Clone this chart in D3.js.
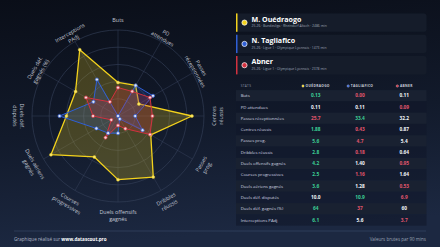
<!DOCTYPE html>
<html>
<head>
<meta charset="utf-8">
<script src="https://cdn.jsdelivr.net/npm/d3@7"></script>
<style>
  html, body { margin: 0; padding: 0; background: #0d1320; }
  svg { display: block; font-family: 'Open Sans', sans-serif; }
</style>
</head>
<body>
<script>
////Globals
const width = 440;
const height = 247;

// radar axes, "\n" marks the line break used on the chart
const statLabels = ['Buts', 'PD\nattendues', 'Passes\nréceptionnées', 'Centres\nréussis', 'Passes\nprog.',
  'Dribbles\nréussis', 'Duels offensifs\ngagnés', 'Courses\nprogressives', 'Duels aériens\ngagnés',
  'Duels déf.\ndisputés', 'Duels déf.\ngagnés (%)', 'Interceptions\nPAdj'];

const playerNames = ['M. Ouédraogo', 'N. Tagliafico', 'Abner'];
const playerShort = ['OUÉDRAOGO', 'TAGLIAFICO', 'ABNER'];
const playerInfo = [
  '25-26 · Bundesliga · Rheindorf Altach · 2486 min',
  '25-26 · Ligue 1 · Olympique Lyonnais · 1473 min',
  '25-26 · Ligue 1 · Olympique Lyonnais · 2378 min'
];
const playerColors = ['#f3d21c', '#2f5fd6', '#d2313f'];

// percentile ranks (radar)
const pctOuedraogo = [39, 41, 28, 86, 44, 82, 74, 55, 90, 60, 57, 89];
const pctTagliafico = [0, 41, 47, 20, 33, 4, 20, 23, 29, 68, 33, 49];
const pctAbner = [33, 33, 43, 40, 43, 17, 11, 29, 9, 29, 43, 19];

// raw values per 90 (table)
const rawOuedraogo = ['0.13', '0.11', '25.7', '1.88', '5.6', '2.8', '4.2', '2.5', '3.6', '10.0', '64', '6.1'];
const rawTagliafico = ['0.00', '0.11', '33.4', '0.43', '4.7', '0.18', '1.40', '1.16', '1.28', '10.9', '37', '5.6'];
const rawAbner = ['0.11', '0.09', '32.2', '0.87', '5.4', '0.64', '0.95', '1.64', '0.53', '6.9', '60', '3.7'];

const pctSeries = [pctOuedraogo, pctTagliafico, pctAbner];
const rawSeries = [rawOuedraogo, rawTagliafico, rawAbner];

const svg = d3.select('body').append('svg')
  .attr('width', width)
  .attr('height', height);

// background
const defs = svg.append('defs');
const bg = defs.append('linearGradient').attr('id', 'bg')
  .attr('x1', 0).attr('y1', 0).attr('x2', 0.15).attr('y2', 1);
bg.append('stop').attr('offset', 0).attr('stop-color', '#0a0e18');
bg.append('stop').attr('offset', 0.55).attr('stop-color', '#121a2b');
bg.append('stop').attr('offset', 1).attr('stop-color', '#1c2841');
svg.append('rect').attr('width', width).attr('height', height).attr('fill', 'url(#bg)');

////Radar
const cx = 118;
const cy = 116;
const R = 86;
const n = statLabels.length;
const angle = d3.scaleLinear().domain([0, n]).range([0, 2 * Math.PI]);
const rScale = d3.scaleLinear().domain([0, 100]).range([0, R]);

const radar = svg.append('g').attr('transform', `translate(${cx},${cy})`);

radar.selectAll('circle.ring')
  .data([20, 40, 60, 80, 100])
  .enter()
  .append('circle')
  .attr('class', 'ring')
  .attr('r', d => rScale(d))
  .attr('fill', 'none')
  .attr('stroke', '#36415a')
  .attr('stroke-width', 0.6);

radar.selectAll('line.spoke')
  .data(statLabels)
  .enter()
  .append('line')
  .attr('class', 'spoke')
  .attr('x1', 0).attr('y1', 0)
  .attr('x2', (_, i) => d3.pointRadial(angle(i), R)[0])
  .attr('y2', (_, i) => d3.pointRadial(angle(i), R)[1])
  .attr('stroke', '#36415a')
  .attr('stroke-width', 0.5);

const radarLine = d3.lineRadial()
  .angle((_, i) => angle(i))
  .radius(d => rScale(d))
  .curve(d3.curveLinearClosed);

const fillOpacity = [0.24, 0.2, 0.24];
const strokeW = [1.3, 1, 1];
pctSeries.forEach((series, s) => {
  radar.append('path')
    .attr('d', radarLine(series))
    .attr('fill', playerColors[s])
    .attr('fill-opacity', fillOpacity[s])
    .attr('stroke', playerColors[s])
    .attr('stroke-width', strokeW[s])
    .attr('stroke-linejoin', 'round');
});

const dotFill = ['#f7e46a', '#dfe6f7', '#f6d3d7'];
pctSeries.forEach((series, s) => {
  radar.selectAll(`circle.pt${s}`)
    .data(series)
    .enter()
    .append('circle')
    .attr('class', `pt${s}`)
    .attr('cx', (d, i) => d3.pointRadial(angle(i), rScale(d))[0])
    .attr('cy', (d, i) => d3.pointRadial(angle(i), rScale(d))[1])
    .attr('r', s === 0 ? 1.5 : 1.6)
    .attr('fill', dotFill[s])
    .attr('stroke', playerColors[s])
    .attr('stroke-width', s === 0 ? 0.4 : 0.7);
});

// axis labels, rotated along the spokes
const labels = radar.selectAll('text.axis')
  .data(statLabels)
  .enter()
  .append('text')
  .attr('class', 'axis')
  .attr('transform', (_, i) => {
    const [x, y] = d3.pointRadial(angle(i), 96);
    const deg = i * 360 / n;
    const rot = (deg >= 90 && deg <= 270) ? deg - 180 : deg;
    return `translate(${x},${y}) rotate(${rot})`;
  })
  .attr('text-anchor', 'middle')
  .attr('font-size', 5.4)
  .attr('fill', '#c3c8d4');

labels.selectAll('tspan')
  .data(d => d.split('\n'))
  .enter()
  .append('tspan')
  .attr('x', 0)
  .attr('y', (_, j) => j * 7)
  .attr('dy', '0.35em')
  .text(d => d);

////Player cards
const cardTop = 13.4;
const cardStep = 21.3;
const cardH = 18.4;
const cards = svg.selectAll('g.card')
  .data(playerNames)
  .enter()
  .append('g')
  .attr('class', 'card')
  .attr('transform', (_, i) => `translate(236,${cardTop + i * cardStep})`);

cards.append('rect')
  .attr('width', 190.5).attr('height', cardH)
  .attr('rx', 2.5)
  .attr('fill', '#151c2a');
cards.append('rect')
  .attr('width', 1.5).attr('height', cardH)
  .attr('fill', (_, i) => playerColors[i]);
cards.append('circle')
  .attr('cx', 8.5).attr('cy', cardH / 2)
  .attr('r', 2.6)
  .attr('fill', (_, i) => playerColors[i])
  .attr('stroke', '#ffffff')
  .attr('stroke-width', 0.7);
cards.append('text')
  .attr('x', 15.5).attr('y', 8.3)
  .attr('font-size', 7.1)
  .attr('font-weight', 700)
  .attr('fill', '#ffffff')
  .text(d => d);
cards.append('text')
  .attr('x', 15.5).attr('y', 14.1)
  .attr('font-size', 3.4)
  .attr('fill', '#9aa2b3')
  .text((_, i) => playerInfo[i]);

////Stats table
const colX = [315.7, 360, 404.3];
const rowY0 = 95.7;
const rowH = 11.3;
const tableStats = statLabels.map(d => d.replace('\n', ' '));

svg.selectAll('rect.row')
  .data(tableStats)
  .enter()
  .append('rect')
  .attr('class', 'row')
  .attr('x', 236)
  .attr('y', (_, i) => rowY0 + i * rowH - rowH / 2)
  .attr('width', 190.5)
  .attr('height', rowH)
  .attr('fill', (_, i) => i % 2 === 0 ? '#192131' : '#10172a')
  .attr('fill-opacity', (_, i) => i % 2 === 0 ? 1 : 0.6);

svg.append('text')
  .attr('x', 240.7).attr('y', 86).attr('dy', '0.35em')
  .attr('font-size', 3.2)
  .attr('letter-spacing', 0.3)
  .attr('fill', '#8a93a6')
  .text('STATS');

const heads = svg.selectAll('g.head')
  .data(playerShort)
  .enter()
  .append('g')
  .attr('class', 'head')
  .attr('transform', (_, i) => `translate(${colX[i] + 2},86)`);
heads.append('text')
  .attr('text-anchor', 'middle')
  .attr('dy', '0.35em')
  .attr('font-size', 3.3)
  .attr('font-weight', 700)
  .attr('letter-spacing', 0.3)
  .attr('fill', '#c9cdd8')
  .text(d => d);
heads.each(function (_, i) {
  const w = d3.select(this).select('text').node().getComputedTextLength();
  d3.select(this).append('circle')
    .attr('cx', -w / 2 - 2.6).attr('cy', 0)
    .attr('r', 1.2)
    .attr('fill', playerColors[i])
    .attr('stroke', '#e8ecf4')
    .attr('stroke-width', 0.3);
});

svg.selectAll('text.stat')
  .data(tableStats)
  .enter()
  .append('text')
  .attr('class', 'stat')
  .attr('x', 240.7)
  .attr('y', (_, i) => rowY0 + i * rowH)
  .attr('dy', '0.35em')
  .attr('font-size', 4.3)
  .attr('fill', '#d3d7e0')
  .text(d => d);

const valueColor = (row, s) => {
  const vals = rawSeries.map(r => +r[row]);
  const v = vals[s];
  const max = d3.max(vals);
  const min = d3.min(vals);
  if (v === max && vals.filter(x => x === max).length === 1) return '#3ccf96';
  if (v === min && vals.filter(x => x === min).length === 1) return '#e2566d';
  return '#f3f5f9';
};

rawSeries.forEach((series, s) => {
  svg.selectAll(`text.val${s}`)
    .data(series)
    .enter()
    .append('text')
    .attr('class', `val${s}`)
    .attr('x', colX[s])
    .attr('y', (_, i) => rowY0 + i * rowH)
    .attr('dy', '0.35em')
    .attr('text-anchor', 'middle')
    .attr('font-size', 4.8)
    .attr('font-weight', 700)
    .attr('fill', (_, i) => valueColor(i, s))
    .text(d => d);
});

////Footer
svg.append('line')
  .attr('x1', 14).attr('x2', 426)
  .attr('y1', 231).attr('y2', 231)
  .attr('stroke', '#34425f')
  .attr('stroke-width', 0.8);

const credit = svg.append('text')
  .attr('x', 14).attr('y', 240.8)
  .attr('font-size', 4.6)
  .attr('fill', '#aeb5c4');
credit.append('tspan').text('Graphique réalisé sur ');
credit.append('tspan').attr('font-weight', 700).attr('fill', '#ffffff').text('www.datascout.pro');

svg.append('text')
  .attr('x', 426).attr('y', 240.8)
  .attr('text-anchor', 'end')
  .attr('font-size', 4.5)
  .attr('fill', '#9aa2b3')
  .text('Valeurs brutes par 90 mins');
</script>
</body>
</html>
